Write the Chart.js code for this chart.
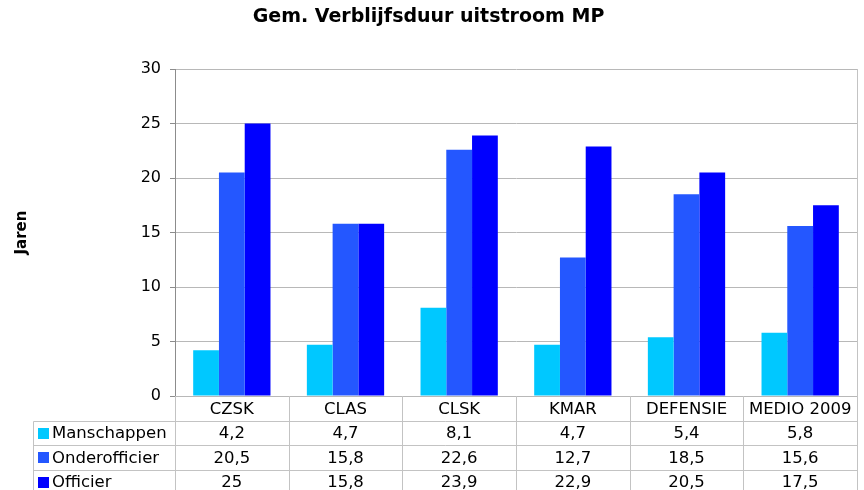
<!DOCTYPE html>
<html>
<head>
<meta charset="utf-8">
<script src="https://cdn.jsdelivr.net/npm/chart.js@4"></script>
<style>
  body { margin: 0; background: #fff; }
  #wrap { width: 864px; height: 490px; }
</style>
</head>
<body>
<div id="wrap"><canvas id="c"></canvas></div>
<script>
const categories = ['CZSK', 'CLAS', 'CLSK', 'KMAR', 'DEFENSIE', 'MEDIO 2009'];
const manschappen = [4.2, 4.7, 8.1, 4.7, 5.4, 5.8];
const onderofficier = [20.5, 15.8, 22.6, 12.7, 18.5, 15.6];
const officier = [25, 15.8, 23.9, 22.9, 20.5, 17.5];
const seriesNames = ['Manschappen', 'Onderofficier', 'Officier'];
const seriesColors = ['#00c8ff', '#2457ff', '#0000ff'];

const FONT = 'DejaVu Sans';
const fmt = v => String(v).replace('.', ',');

// data table under the plot, drawn from the x scale
const tablePlugin = {
  id: 'dataTable',
  afterDraw(chart) {
    const ctx = chart.ctx;
    const area = chart.chartArea;
    const n = categories.length;
    const colW = (area.right - area.left) / n;
    const rowH = 24.5;
    const legendLeft = 33.5;
    const bottom = chart.height;
    ctx.save();
    ctx.strokeStyle = '#c3c3c3';
    ctx.lineWidth = 1;

    // right border of plot + table
    ctx.beginPath();
    ctx.moveTo(Math.round(area.right) + 0.5, area.top);
    ctx.lineTo(Math.round(area.right) + 0.5, bottom);
    ctx.stroke();

    // column lines
    for (let i = 0; i < n; i++) {
      const x = Math.round(area.left + i * colW) + 0.5;
      ctx.beginPath();
      ctx.moveTo(x, area.bottom);
      ctx.lineTo(x, bottom);
      ctx.stroke();
    }
    // row lines
    for (let r = 1; r <= 3; r++) {
      const y = Math.round(area.bottom + r * rowH) + 0.5;
      ctx.beginPath();
      ctx.moveTo(legendLeft, y);
      ctx.lineTo(area.right, y);
      ctx.stroke();
    }
    ctx.beginPath();
    ctx.moveTo(legendLeft, Math.round(area.bottom + rowH) + 0.5);
    ctx.lineTo(legendLeft, bottom);
    ctx.stroke();

    ctx.fillStyle = '#000';
    ctx.font = '16.5px "' + FONT + '"';
    ctx.textBaseline = 'middle';
    ctx.textAlign = 'center';
    const xs = chart.scales.x;
    categories.forEach((c, i) => {
      ctx.fillText(c, xs.getPixelForValue(i), area.bottom + rowH / 2 + 1);
    });

    chart.data.datasets.forEach((ds, r) => {
      const yMid = area.bottom + (r + 1) * rowH + rowH / 2 + 1;
      ds.data.forEach((v, i) => {
        ctx.textAlign = 'center';
        ctx.fillStyle = '#000';
        ctx.fillText(fmt(v), xs.getPixelForValue(i), yMid);
      });
      ctx.fillStyle = ds.backgroundColor;
      ctx.fillRect(38, Math.round(yMid - 6), 11, 11);
      ctx.fillStyle = '#000';
      ctx.textAlign = 'left';
      ctx.fillText(ds.label, 52, yMid);
    });
    ctx.restore();
  }
};

new Chart(document.getElementById('c'), {
  type: 'bar',
  data: {
    labels: categories,
    datasets: [
      { label: seriesNames[0], data: manschappen, backgroundColor: seriesColors[0] },
      { label: seriesNames[1], data: onderofficier, backgroundColor: seriesColors[1] },
      { label: seriesNames[2], data: officier, backgroundColor: seriesColors[2] }
    ]
  },
  options: {
    responsive: true,
    maintainAspectRatio: false,
    animation: false,
    layout: { padding: { top: 0, right: 7, bottom: 94, left: 0 } },
    datasets: {
      bar: { categoryPercentage: 0.68, barPercentage: 1.0, borderWidth: 0 }
    },
    plugins: {
      legend: { display: false },
      tooltip: { enabled: false },
      title: {
        display: true,
        text: 'Gem. Verblijfsduur uitstroom MP',
        color: '#000',
        font: { family: FONT, size: 19, weight: 'bold' },
        padding: { top: 6, bottom: 40.2 }
      }
    },
    scales: {
      x: { display: false },
      y: {
        min: 0,
        max: 30,
        afterFit(scale) { scale.width = 175; },
        ticks: {
          stepSize: 5,
          color: '#000',
          padding: 9,
          font: { family: FONT, size: 16 }
        },
        grid: { color: '#b8b8b8', tickLength: 5, tickColor: '#8c8c8c' },
        border: { color: '#8c8c8c', width: 1 },
        title: {
          display: true,
          text: 'Jaren',
          color: '#000',
          font: { family: FONT, size: 15, weight: 'bold' },
          padding: { top: 13, bottom: 0 }
        }
      }
    }
  },
  plugins: [tablePlugin]
});
</script>
</body>
</html>
